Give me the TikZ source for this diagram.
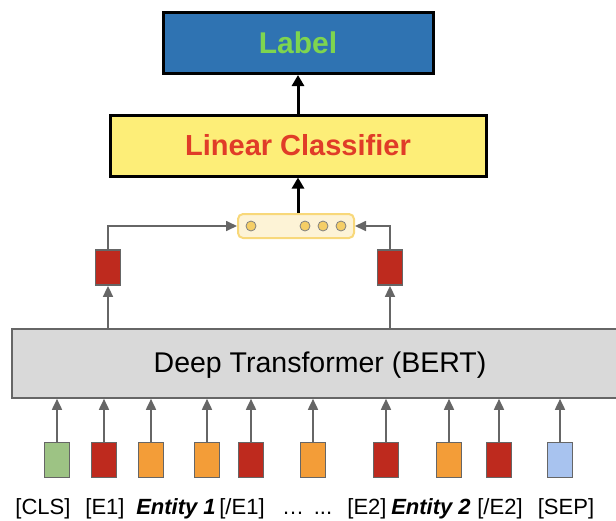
\documentclass[tikz,border=0pt]{standalone}
\usepackage{fontspec}
\setmainfont{Liberation Sans}
\usetikzlibrary{arrows.meta}
\definecolor{lblue}{HTML}{2F73B2}
\definecolor{lgreen}{HTML}{7ED54F}
\definecolor{cyellow}{HTML}{FDEE78}
\definecolor{cred}{HTML}{E03C28}
\definecolor{vecfill}{HTML}{FDF3D6}
\definecolor{vecdraw}{HTML}{F8D87A}
\definecolor{dotfill}{HTML}{F5CE66}
\definecolor{tokred}{HTML}{BE2A1E}
\definecolor{tokorange}{HTML}{F39D38}
\definecolor{tokgreen}{HTML}{9DC384}
\definecolor{tokblue}{HTML}{A8C3EF}
\definecolor{bertgray}{HTML}{D9D9D9}
\definecolor{edgegray}{HTML}{666666}
\tikzset{
  topbox/.style={draw=black, line width=3pt, minimum height=60pt, inner sep=0pt},
  tok/.style={draw=edgegray, line width=1.8pt, minimum width=25pt, minimum height=35pt, inner sep=0pt},
  dot/.style={circle, draw=gray, line width=0.8pt, fill=dotfill, minimum size=10pt, inner sep=0pt},
  grayarrow/.style={draw=edgegray, line width=1.7pt, -{Triangle[length=11pt,width=10pt]}},
  blackarrow/.style={draw=black, line width=3pt, -{Triangle[length=11pt,width=12pt]}},
  toklabel/.style={font=\fontsize{22}{24}\selectfont, inner sep=0pt, anchor=base}
}
\begin{document}
\begin{tikzpicture}[x=1pt,y=-1pt]
\useasboundingbox (0,0) rectangle (616,520);
% top boxes
\node[topbox, fill=lblue, minimum width=270pt, minimum height=61pt, text=lgreen, font=\bfseries\fontsize{30}{32}\selectfont] (label) at (298,43) {Label};
\node[topbox, fill=cyellow, minimum width=376pt, minimum height=61pt, text=cred, font=\bfseries\fontsize{29}{32}\selectfont] (clf) at (298,145.5) {Linear Classifier};
% vector
\node[draw=vecdraw, fill=vecfill, line width=2pt, rounded corners=5pt, minimum width=116pt, minimum height=24pt, inner sep=0pt] (vec) at (296,226) {};
\node[dot] (d1) at (251,226) {};
\node[dot] (d2) at (305,226) {};
\node[dot] (d3) at (323,226) {};
\node[dot] (d4) at (341,226) {};
\draw[blackarrow] (vec.north -| clf.south) -- (clf.south);
\draw[blackarrow] (clf.north -| label.south) -- (label.south);
% BERT
\node[draw=edgegray, fill=bertgray, line width=1.6pt, minimum width=606pt, minimum height=69pt, inner sep=0pt] (bert) at (315,363.5) {};
\node[font=\fontsize{28.5}{30}\selectfont, inner sep=0pt] (berttext) at (320,365) {Deep Transformer (BERT)};
% entity outputs
\node[tok, fill=tokred] (o1) at (108,267.5) {};
\node[tok, fill=tokred] (o2) at (390,267.5) {};
\draw[grayarrow] (bert.north -| o1) -- (o1.south);
\draw[grayarrow] (bert.north -| o2) -- (o2.south);
\draw[grayarrow] (o1.north) |- (vec.west);
\draw[grayarrow] (o2.north) |- (vec.east);
% input tokens
\foreach \n/\x/\c in {t1/57/tokgreen, t2/104/tokred, t3/151/tokorange, t4/207/tokorange, t5/251/tokred, t6/313/tokorange, t7/386/tokred, t8/449/tokorange, t9/499/tokred, t10/560/tokblue}{
  \node[tok, fill=\c] (\n) at (\x,460) {};
  \draw[grayarrow] (\n.north) -- (\n.north |- bert.south);
}
% labels
\node[toklabel] (l1) at (43,514) {[CLS]};
\node[toklabel] (l2) at (105,514) {[E1]};
\node[toklabel] (l3) at (176,514) {\bfseries\itshape Entity 1};
\node[toklabel] (l4) at (242,514) {[/E1]};
\node[toklabel] (l5) at (293,514) {…};
\node[toklabel] (l6) at (323,514) {...};
\node[toklabel] (l7) at (367,514) {[E2]};
\node[toklabel] (l8) at (431,514) {\bfseries\itshape Entity 2};
\node[toklabel] (l9) at (500,514) {[/E2]};
\node[toklabel] (l10) at (566,514) {[SEP]};
\end{tikzpicture}
\end{document}
